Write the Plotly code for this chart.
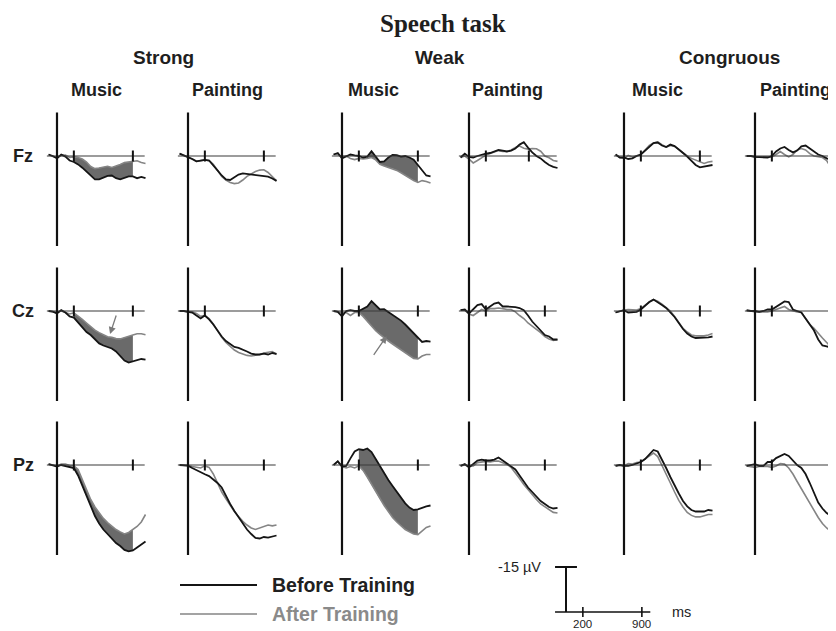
import plotly.graph_objects as go

# ---------------- data (µV, negative plotted upward) ----------------
TIME_MS = [-100, -50, 0, 50, 100, 150, 200, 250, 300, 350, 400, 450,
           500, 550, 600, 650, 700, 750, 800, 850, 900, 950, 1000, 1050]

CONDITIONS = ["Strong", "Weak", "Congruous"]
MODALITIES = ["Music", "Painting"]
ELECTRODES = ["Fz", "Cz", "Pz"]
TICK_TIMES = [200, 900]
TICK_TIMES_WEAK_PAINTING_FZ = [200, 710]
SCALE_UV = -15
SCALE_TICK_LABELS = ["200", "900"]
LEGEND_LABELS = ["Before Training", "After Training"]

# Fz
FZ_STRONG_MUSIC_BEFORE = [-0.5, 0, 0.8, -0.5, 0.2, 1.5, 2.0, 2.8, 3.9, 5.2, 6.8, 7.8, 7.8, 7.2, 6.6, 6.5, 7.4, 7.8, 7.2, 6.8, 6.8, 7.4, 7.0, 7.4]
FZ_STRONG_MUSIC_AFTER = [-0.5, 0.2, 0.5, -0.2, -0.3, 0.5, 0.3, 0.5, 1.0, 2.0, 3.5, 4.2, 4.0, 3.6, 3.4, 3.8, 3.4, 2.8, 2.2, 2.0, 1.8, 1.6, 2.2, 2.5]
FZ_STRONG_PAINT_BEFORE = [-0.8, -0.2, 0.3, 1.0, 1.8, 1.5, 1.3, 1.5, 3.0, 4.8, 6.5, 7.8, 8.0, 7.0, 6.2, 5.8, 6.0, 6.3, 6.3, 6.5, 6.7, 6.9, 7.5, 8.3]
FZ_STRONG_PAINT_AFTER = [-0.8, -0.2, 0.3, 1.0, 1.8, 1.5, 1.3, 1.5, 2.8, 4.8, 6.8, 8.0, 8.8, 9.2, 9.0, 8.0, 6.8, 6.0, 5.2, 4.7, 4.6, 5.5, 7.0, 8.3]
FZ_WEAK_MUSIC_BEFORE = [-0.5, -1.0, 0.8, 0.2, -0.5, -0.2, 0.0, 0.5, 0.2, -1.6, 0.3, 2.0, 1.8, 0.5, -0.4, -0.3, 0.2, 0.0, 0.5, 1.2, 3.0, 4.8, 6.5, 6.8]
FZ_WEAK_MUSIC_AFTER = [-0.5, -0.5, 0.2, 0.0, 0.8, 1.2, 0.8, 1.0, 0.8, 0.5, 1.3, 2.8, 3.3, 3.8, 4.2, 4.8, 5.6, 6.5, 7.2, 8.2, 8.8, 8.2, 8.5, 9.0]
FZ_WEAK_PAINT_BEFORE = [0.5, -0.8, 0.3, 0.5, 0.0, -0.5, -0.8, -1.0, -1.5, -2.0, -1.8, -1.5, -1.8, -2.5, -3.8, -4.6, -2.8, -1.2, 0.0, 0.8, 2.0, 3.0, 3.6, 4.0]
FZ_WEAK_PAINT_AFTER = [0.5, 0.0, 1.0, 2.3, 1.5, 0.5, -0.3, -0.8, -1.3, -1.8, -1.5, -1.5, -2.0, -2.8, -3.3, -2.6, -2.3, -2.5, -2.4, -1.6, 0.0, 0.6, 1.5, 1.8]
FZ_CONG_MUSIC_BEFORE = [-0.5, 0.5, 0.5, 1.0, 0.8, 0.0, -0.5, -1.8, -3.2, -4.3, -4.5, -3.5, -3.0, -3.8, -3.3, -2.0, -1.0, 0.2, 1.5, 3.0, 3.8, 3.5, 3.2, 3.0]
FZ_CONG_MUSIC_AFTER = [-0.5, 0.5, 0.8, -0.2, 0.3, 0.0, -0.5, -2.0, -3.5, -4.3, -4.7, -3.8, -3.0, -3.5, -3.2, -2.2, -1.0, 0.0, 0.8, 1.3, 2.0, 2.5, 2.0, 1.8]
FZ_CONG_PAINT_BEFORE = [0, 0, 0.3, 0.3, 0.3, 0.5, 0.0, -1.5, -2.5, -3.0, -2.0, -1.2, -1.8, -3.2, -3.5, -2.5, -1.5, -0.5, 0.0, 0.8, 1.2, 2.0, 2.3, 2.5]
FZ_CONG_PAINT_AFTER = [0, 0, 0.3, 0.3, 0.3, 0.5, 0.3, -0.5, -1.5, -0.5, 0.3, -0.5, -2.0, -2.5, -2.0, -0.8, 0.0, 0.2, 0.5, 1.5, 3.8, 5.0, 5.5, 5.5]

# Cz
CZ_STRONG_MUSIC_BEFORE = [0, 0.2, 0.8, -0.3, 0.5, 1.8, 2.2, 3.8, 5.5, 7.0, 8.0, 9.5, 10.8, 11.5, 12.0, 12.5, 13.5, 15.0, 16.5, 17.2, 16.8, 16.2, 16.0, 16.2]
CZ_STRONG_MUSIC_AFTER = [0, 0.2, 0.5, 0, 0.5, 1.0, 0.6, 1.6, 2.8, 4.0, 5.3, 6.4, 7.2, 8.0, 8.6, 8.8, 9.2, 9.3, 8.8, 8.3, 8.0, 7.6, 7.6, 7.9]
CZ_STRONG_PAINT_BEFORE = [0, 0, 0.3, 0.5, 1.5, 2.5, 1.5, 2.8, 4.5, 6.5, 8.5, 10.0, 11.0, 12.0, 12.3, 12.8, 13.5, 14.2, 14.5, 14.5, 14.2, 14.5, 14.0, 14.3]
CZ_STRONG_PAINT_AFTER = [0, 0, 0.3, 0.3, 0.8, 1.8, 1.5, 2.5, 4.3, 6.5, 8.8, 10.5, 11.8, 13.0, 13.8, 14.3, 14.8, 15.0, 14.8, 14.5, 14.0, 13.8, 13.5, 14.5]
CZ_WEAK_MUSIC_BEFORE = [0, 0.3, 1.8, 0.0, -0.3, 0.0, 0.0, -0.8, -1.5, -3.3, -1.8, -0.5, -0.6, 0.3, 1.3, 2.2, 3.2, 4.5, 6.0, 7.5, 9.0, 10.3, 10.0, 10.2]
CZ_WEAK_MUSIC_AFTER = [0, 0.3, 0.5, 0.5, 1.5, 0.5, 0.5, 1.8, 3.5, 5.2, 6.6, 7.8, 9.0, 10.0, 11.0, 12.0, 13.0, 14.0, 15.0, 15.8, 16.0, 15.0, 14.5, 14.5]
CZ_WEAK_PAINT_BEFORE = [-0.3, -0.5, 0.8, -0.5, -2.0, -2.3, -0.5, -1.5, -2.5, -2.8, -1.5, -1.5, -1.5, -1.3, -1.0, -0.3, 1.5, 3.5, 5.0, 6.5, 8.0, 8.5, 9.5, 9.5]
CZ_WEAK_PAINT_AFTER = [-0.3, -0.3, 1.0, 1.5, 0.5, -0.5, 0.0, -0.8, -0.8, -1.0, -0.8, -0.5, -0.5, 0.3, 1.5, 2.5, 4.0, 5.0, 6.0, 7.2, 8.5, 9.3, 9.8, 9.6]
CZ_CONG_MUSIC_BEFORE = [0.5, 0, -0.3, 0.5, 0.5, 0.3, -0.5, -1.8, -3.0, -3.8, -3.0, -2.0, -1.0, 0.5, 2.0, 4.0, 6.0, 7.5, 8.5, 9.0, 9.0, 9.0, 8.8, 8.5]
CZ_CONG_MUSIC_AFTER = [0.5, 0, -0.3, -0.5, -0.5, -0.3, -0.8, -2.0, -3.0, -3.8, -3.3, -2.3, -1.3, 0.0, 1.8, 3.8, 5.8, 7.0, 8.0, 8.3, 8.3, 8.3, 8.0, 7.5]
CZ_CONG_PAINT_BEFORE = [-0.3, 0, 0, 0.3, 0, -0.5, -0.5, -1.5, -2.5, -3.2, -3.0, -0.5, 0, 0.5, 2.5, 4.5, 6.5, 9.5, 11.5, 11.8, 12.3, 12.8, 13.0, 13.0]
CZ_CONG_PAINT_AFTER = [0, 0, 0.3, 0.3, 0.3, 0.3, 0, -0.5, -1.0, -1.5, -0.5, 0, 0.3, 0.5, 2.5, 4.5, 5.8, 7.5, 9.0, 10.5, 12.0, 12.8, 13.0, 13.0]

# Pz
PZ_STRONG_MUSIC_BEFORE = [-0.3, 0, 0.5, 0, 0.3, 0.5, 1.0, 3.5, 7.0, 10.5, 14.0, 17.0, 19.5, 21.5, 23.0, 24.5, 26.0, 27.0, 28.3, 28.8, 28.5, 27.5, 26.5, 25.5]
PZ_STRONG_MUSIC_AFTER = [-0.3, 0, 0.3, -0.3, -0.3, 0.2, 0.3, 1.5, 5.0, 8.5, 11.5, 14.0, 16.0, 17.8, 19.2, 20.5, 21.5, 22.3, 23.0, 22.5, 21.5, 20.5, 19.0, 16.5]
PZ_STRONG_PAINT_BEFORE = [0, 0, 0.2, 1.0, 1.7, 2.6, 3.1, 3.7, 4.8, 6.0, 7.5, 10.5, 13.0, 15.3, 17.5, 19.5, 21.5, 23.0, 24.3, 24.5, 24.0, 24.2, 23.8, 23.5]
PZ_STRONG_PAINT_AFTER = [0, 0, 0.2, 0.5, 0.8, 1.0, 0.3, 0.8, 3.0, 6.0, 9.0, 11.3, 13.5, 15.5, 17.2, 18.8, 20.0, 21.0, 21.5, 21.0, 20.3, 20.0, 20.3, 20.0]
PZ_WEAK_MUSIC_BEFORE = [0, -1.2, 0.5, 0.3, -2.2, -4.5, -5.3, -5.0, -5.5, -4.3, -2.0, 0.5, 2.8, 5.0, 7.0, 9.0, 11.0, 12.8, 14.2, 15.0, 14.8, 14.2, 13.8, 13.5]
PZ_WEAK_MUSIC_AFTER = [0, -1.2, 0.5, 1.0, 0.5, 1.0, 0.3, 1.8, 4.0, 6.5, 9.0, 11.4, 13.5, 15.5, 17.5, 19.0, 20.3, 21.5, 22.3, 23.0, 23.2, 22.0, 20.8, 20.3]
PZ_WEAK_PAINT_BEFORE = [0.3, -0.3, 0.8, -0.3, -1.5, -1.8, -1.5, -1.5, -1.8, -2.5, -1.5, -0.5, 0.5, 1.5, 3.5, 5.5, 7.5, 9.0, 10.5, 12.0, 13.0, 14.0, 14.5, 14.3]
PZ_WEAK_PAINT_AFTER = [0.3, 0, 0.5, 0.3, -0.8, -1.0, -1.2, -1.0, -1.3, -1.3, -0.8, -0.2, 0.8, 2.5, 4.5, 6.5, 8.3, 9.8, 11.5, 13.0, 14.0, 15.0, 15.8, 16.0]
PZ_CONG_MUSIC_BEFORE = [0.3, 0, 0.3, 0.3, 0, -0.5, -1.0, -2.0, -3.5, -5.0, -4.5, -2.0, 1.0, 4.0, 7.0, 9.5, 12.0, 13.8, 15.0, 15.5, 15.5, 15.5, 15.0, 15.2]
PZ_CONG_MUSIC_AFTER = [0.3, 0, 0.3, -0.5, -0.3, -0.8, -1.0, -2.0, -3.3, -4.0, -2.8, 0.0, 3.0, 6.0, 9.0, 11.8, 14.0, 15.8, 16.8, 17.3, 17.3, 17.0, 16.5, 16.5]
PZ_CONG_PAINT_BEFORE = [0.3, 0, -0.3, 0.3, 0.3, -1.0, -1.0, -2.3, -3.1, -3.7, -3.0, -1.5, 0, 1.0, 3.0, 6.0, 9.0, 12.5, 14.5, 16.0, 17.0, 18.0, 18.5, 19.0]
PZ_CONG_PAINT_AFTER = [0.3, 0.5, 0.8, 0.5, 0.5, 0.5, 0.8, 0.3, -0.5, -0.3, 1.0, 3.0, 5.5, 8.0, 10.5, 13.0, 15.5, 17.5, 19.5, 21.0, 22.0, 23.0, 23.5, 24.0]

# shaded significant windows (ms) for the music panels of Strong / Weak
SHADE_STRONG_MUSIC = [200, 900]
SHADE_WEAK_MUSIC_FZ = [300, 900]
SHADE_WEAK_MUSIC = [200, 900]

# arrows (time ms, µV): tail -> head
ARROW_STRONG_MUSIC_CZ = [(708, 1.0), (629, 7.7)]
ARROW_WEAK_MUSIC_CZ = [(364, 15.1), (530, 8.4)]

# ---------------- panel table built from the arrays ----------------
WAVES = [
    [(FZ_STRONG_MUSIC_BEFORE, FZ_STRONG_MUSIC_AFTER), (FZ_STRONG_PAINT_BEFORE, FZ_STRONG_PAINT_AFTER),
     (FZ_WEAK_MUSIC_BEFORE, FZ_WEAK_MUSIC_AFTER), (FZ_WEAK_PAINT_BEFORE, FZ_WEAK_PAINT_AFTER),
     (FZ_CONG_MUSIC_BEFORE, FZ_CONG_MUSIC_AFTER), (FZ_CONG_PAINT_BEFORE, FZ_CONG_PAINT_AFTER)],
    [(CZ_STRONG_MUSIC_BEFORE, CZ_STRONG_MUSIC_AFTER), (CZ_STRONG_PAINT_BEFORE, CZ_STRONG_PAINT_AFTER),
     (CZ_WEAK_MUSIC_BEFORE, CZ_WEAK_MUSIC_AFTER), (CZ_WEAK_PAINT_BEFORE, CZ_WEAK_PAINT_AFTER),
     (CZ_CONG_MUSIC_BEFORE, CZ_CONG_MUSIC_AFTER), (CZ_CONG_PAINT_BEFORE, CZ_CONG_PAINT_AFTER)],
    [(PZ_STRONG_MUSIC_BEFORE, PZ_STRONG_MUSIC_AFTER), (PZ_STRONG_PAINT_BEFORE, PZ_STRONG_PAINT_AFTER),
     (PZ_WEAK_MUSIC_BEFORE, PZ_WEAK_MUSIC_AFTER), (PZ_WEAK_PAINT_BEFORE, PZ_WEAK_PAINT_AFTER),
     (PZ_CONG_MUSIC_BEFORE, PZ_CONG_MUSIC_AFTER), (PZ_CONG_PAINT_BEFORE, PZ_CONG_PAINT_AFTER)],
]
SHADES = {(0, 0): SHADE_STRONG_MUSIC, (1, 0): SHADE_STRONG_MUSIC, (2, 0): SHADE_STRONG_MUSIC,
          (0, 2): SHADE_WEAK_MUSIC_FZ, (1, 2): SHADE_WEAK_MUSIC, (2, 2): SHADE_WEAK_MUSIC}
ARROWS = {(1, 0): ARROW_STRONG_MUSIC_CZ, (1, 2): ARROW_WEAK_MUSIC_CZ}
TICKS = {(0, 3): TICK_TIMES_WEAK_PAINTING_FZ}

# ---------------- geometry / style ----------------
# The page body has an 8 px margin, so the figure is sized to fill the
# 836x631 window exactly and positions are given in window pixels.
VIEW_W, VIEW_H = 836, 631
BODY_MARGIN = 8
FIG_W, FIG_H = VIEW_W - BODY_MARGIN, VIEW_H - BODY_MARGIN
KX = 0.0843          # px per ms
KY = 3.0             # px per µV
COL_X0 = [57, 188, 342, 469, 624, 755]
ROW_Y0 = [156, 311, 465]
X_RANGE = (-150, 1100)
Y_RANGE = (-15, 31)

BLACK = "#151515"
GRAY = "#858585"
FILL = "#6a6a6a"
TXT = "#1e1e1e"
FONT = "Liberation Sans, Arial, sans-serif"


def fx(px):
    return (px - BODY_MARGIN) / FIG_W


def fy(py):
    return 1 - (py - BODY_MARGIN) / FIG_H


fig = go.Figure()
layout = dict(width=FIG_W, height=FIG_H, margin=dict(l=0, r=0, t=0, b=0),
              paper_bgcolor="white", plot_bgcolor="rgba(0,0,0,0)", showlegend=False)
shapes = []
annotations = []


def add_axes(idx, x0, y0, xr, yr):
    lo_px = x0 + xr[0] * KX
    hi_px = min(VIEW_W, x0 + xr[1] * KX)
    top_px = y0 + yr[0] * KY
    bot_px = min(VIEW_H, y0 + yr[1] * KY)
    xa = "xaxis" if idx == 1 else f"xaxis{idx}"
    ya = "yaxis" if idx == 1 else f"yaxis{idx}"
    layout[xa] = dict(domain=[fx(lo_px), fx(hi_px)], range=[(lo_px - x0) / KX, (hi_px - x0) / KX],
                      visible=False, anchor=f"y{idx}", fixedrange=True)
    layout[ya] = dict(domain=[fy(bot_px), fy(top_px)], range=[(bot_px - y0) / KY, yr[0]],
                      visible=False, anchor=f"x{idx}", fixedrange=True)


def seg(idx, xa, ya, xb, yb, color, width):
    shapes.append(dict(type="line", xref=f"x{idx}", yref=f"y{idx}", x0=xa, y0=ya, x1=xb, y1=yb,
                       line=dict(color=color, width=width)))


idx = 0
for r, row in enumerate(WAVES):
    for c, (before, after) in enumerate(row):
        idx += 1
        x0, y0 = COL_X0[c], ROW_Y0[r]
        add_axes(idx, x0, y0, X_RANGE, Y_RANGE)
        xs, ys = f"x{idx}", f"y{idx}"
        seg(idx, -120, 0, 1040, 0, "#3a3a3a", 1.2)
        seg(idx, 0, -14.5, 0, 30, "#111111", 2.2)
        for t in TICKS.get((r, c), TICK_TIMES):
            seg(idx, t, -1.8, t, 1.8, "#111111", 2)
        if (r, c) in SHADES:
            a, b = SHADES[(r, c)]
            ii = [i for i, t in enumerate(TIME_MS) if a <= t <= b]
            px_ = [TIME_MS[i] for i in ii] + [TIME_MS[i] for i in reversed(ii)]
            py_ = [before[i] for i in ii] + [after[i] for i in reversed(ii)]
            fig.add_trace(go.Scatter(x=px_, y=py_, xaxis=xs, yaxis=ys, mode="lines", fill="toself",
                                     fillcolor=FILL, line=dict(width=0), hoverinfo="skip"))
        fig.add_trace(go.Scatter(x=TIME_MS, y=after, xaxis=xs, yaxis=ys, mode="lines",
                                 line=dict(color=GRAY, width=1.6), name=LEGEND_LABELS[1]))
        fig.add_trace(go.Scatter(x=TIME_MS, y=before, xaxis=xs, yaxis=ys, mode="lines",
                                 line=dict(color=BLACK, width=1.8), name=LEGEND_LABELS[0]))
        if (r, c) in ARROWS:
            (tx, ty), (hx, hy) = ARROWS[(r, c)]
            annotations.append(dict(x=hx, y=hy, ax=tx, ay=ty, xref=xs, yref=ys, axref=xs, ayref=ys,
                                    text="", showarrow=True, arrowhead=2, arrowsize=1.1,
                                    arrowwidth=1.3, arrowcolor="#7a7a7a"))

# ---------------- scale bar subplot ----------------
idx += 1
SB_X0, SB_Y0 = 566, 612
add_axes(idx, SB_X0, SB_Y0, (-400, 1400), (-17, 7))
seg(idx, 0, 0, 0, SCALE_UV, "#111111", 2)
seg(idx, -130, SCALE_UV, 130, SCALE_UV, "#111111", 2)
seg(idx, -130, 0, 1000, 0, "#111111", 1.3)
for t, lab in zip(TICK_TIMES, SCALE_TICK_LABELS):
    seg(idx, t, -1.7, t, 1.7, "#111111", 1.6)
    annotations.append(dict(x=t, y=6.2, xref=f"x{idx}", yref=f"y{idx}", text=lab, showarrow=False,
                            xanchor="center", yanchor="bottom", borderpad=0,
                            font=dict(family=FONT, size=11.5, color=TXT)))
annotations.append(dict(x=-270, y=SCALE_UV, xref=f"x{idx}", yref=f"y{idx}", text=f"{SCALE_UV} µV",
                        showarrow=False, xanchor="right", yanchor="middle",
                        font=dict(family=FONT, size=14.5, color=TXT)))
annotations.append(dict(x=1230, y=0, xref=f"x{idx}", yref=f"y{idx}", text="ms", showarrow=False,
                        xanchor="left", yanchor="middle", font=dict(family=FONT, size=14.5, color=TXT)))


# ---------------- text ----------------
def label(text, x, y, size, color=TXT, family=FONT, anchor="center"):
    annotations.append(dict(x=fx(x), y=fy(y), xref="paper", yref="paper", text=text, showarrow=False,
                            xanchor=anchor, yanchor="middle", font=dict(family=family, size=size, color=color)))


label("<b>Speech task</b>", 443, 23, 25, family="Liberation Serif, Times New Roman, serif")
for name, x in zip(CONDITIONS, [163, 440, 729]):
    label(f"<b>{name}</b>", x, 58, 19)
for name, x in zip(MODALITIES * 3, [96, 227, 373, 507, 657, 795]):
    label(f"<b>{name}</b>", x, 90, 18)
for name, y in zip(ELECTRODES, ROW_Y0):
    label(f"<b>{name}</b>", 23, y, 18)

# legend
shapes.append(dict(type="line", xref="paper", yref="paper", x0=fx(180), x1=fx(257), y0=fy(585), y1=fy(585),
                   line=dict(color=BLACK, width=2.2)))
shapes.append(dict(type="line", xref="paper", yref="paper", x0=fx(180), x1=fx(257), y0=fy(614), y1=fy(614),
                   line=dict(color=GRAY, width=1.5)))
label(f"<b>{LEGEND_LABELS[0]}</b>", 270, 585, 19.5, color="#202020", anchor="left")
label(f"<b>{LEGEND_LABELS[1]}</b>", 270, 614, 19.5, color="#8a8a8a", anchor="left")

layout["shapes"] = shapes
layout["annotations"] = annotations
fig.update_layout(**layout)
fig.write_html("out.html")
